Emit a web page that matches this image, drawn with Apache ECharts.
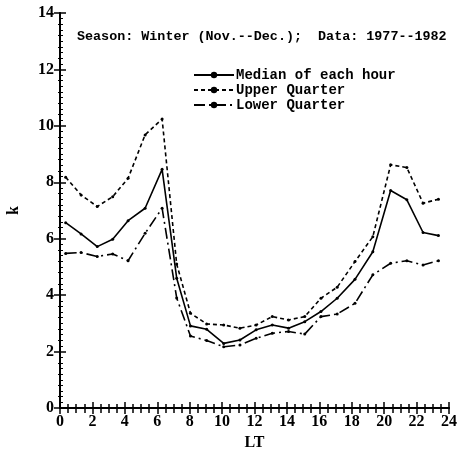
<!DOCTYPE html>
<html>
<head>
<meta charset="utf-8">
<script src="https://cdn.jsdelivr.net/npm/echarts@6/dist/echarts.min.js"></script>
<style>
  html, body { margin: 0; padding: 0; background: #fff; }
  #chart { width: 459px; height: 450px; }
</style>
</head>
<body>
<div id="chart"></div>
<script>
// local time of each hourly point (as plotted)
const lt = [0.35, 1.3, 2.3, 3.25, 4.2, 5.25, 6.3, 7.2, 8.05, 9.05, 10.1, 11.1,
            12.1, 13.1, 14.1, 15.1, 16.1, 17.1, 18.2, 19.3, 20.4, 21.4, 22.4, 23.35];
const median = [6.57, 6.17, 5.72, 5.98, 6.64, 7.08, 8.46, 4.6, 2.91, 2.79, 2.29, 2.41,
                2.77, 2.94, 2.83, 3.06, 3.42, 3.89, 4.56, 5.54, 7.71, 7.38, 6.22, 6.11];
const upper = [8.18, 7.55, 7.14, 7.49, 8.14, 9.68, 10.24, 5.1, 3.36, 2.98, 2.94, 2.83,
               2.94, 3.24, 3.12, 3.24, 3.89, 4.28, 5.19, 6.07, 8.62, 8.52, 7.26, 7.4];
const lower = [5.48, 5.51, 5.37, 5.46, 5.22, 6.19, 7.08, 3.9, 2.55, 2.39, 2.17, 2.23,
               2.47, 2.65, 2.71, 2.62, 3.24, 3.33, 3.71, 4.72, 5.13, 5.22, 5.07, 5.22];
const seriesNames = ['Median of each hour', 'Upper Quarter', 'Lower Quarter'];

const pairs = ys => lt.map((x, i) => [x, ys[i]]);
const labelFont = { fontFamily: 'Liberation Serif', fontWeight: 'bold', fontSize: 16, color: '#000' };

const myChart = echarts.init(document.getElementById('chart'));

const mkSeries = (name, ys, type) => ({
  name: name,
  type: 'line',
  data: pairs(ys),
  symbol: 'circle',
  symbolSize: 3,
  itemStyle: { color: '#000' },
  lineStyle: { color: '#000', width: 1.6, type: type },
  animation: false
});

myChart.setOption({
  animation: false,
  backgroundColor: '#fff',
  title: {
    text: 'Season: Winter (Nov.--Dec.);  Data: 1977--1982',
    left: 72, top: 25,
    textStyle: { fontFamily: 'Liberation Mono', fontWeight: 'bold', fontSize: 13.4, color: '#000' }
  },
  legend: {
    orient: 'vertical',
    left: 188, top: 63,
    itemGap: 1,
    itemWidth: 40, itemHeight: 8,
    data: seriesNames,
    textStyle: { fontFamily: 'Liberation Mono', fontWeight: 'bold', fontSize: 14, color: '#000', padding: [0, 0, 0, -3] }
  },
  grid: { left: 60, right: 10, top: 13, bottom: 42, outerBoundsMode: 'none' },
  xAxis: [{
    type: 'value', min: 0, max: 24, interval: 2,
    name: 'LT', nameLocation: 'middle', nameGap: 23,
    nameTextStyle: labelFont,
    axisLine: { lineStyle: { color: '#000', width: 2 } },
    axisTick: { inside: true, length: 6, lineStyle: { color: '#000', width: 1.5 } },
    minorTick: { show: true, splitNumber: 4, length: 4, lineStyle: { color: '#000', width: 1.5 } },
    axisLabel: Object.assign({ margin: 6 }, labelFont),
    splitLine: { show: false }
  }, {
    type: 'value', min: 0, max: 24, interval: 2, position: 'top',
    axisLine: { lineStyle: { color: '#000', width: 1.5 } },
    axisTick: { inside: true, length: 6, lineStyle: { color: '#000', width: 1.5 } },
    minorTick: { show: true, splitNumber: 4, length: 5, lineStyle: { color: '#000', width: 1.5 } },
    axisLabel: { show: false },
    splitLine: { show: false }
  }],
  yAxis: [{
    type: 'value', min: 0, max: 14, interval: 2,
    name: 'k', nameLocation: 'middle', nameGap: 38, nameRotate: 90,
    nameTextStyle: labelFont,
    axisLine: { lineStyle: { color: '#000', width: 2 } },
    axisTick: { inside: true, length: 6, lineStyle: { color: '#000', width: 1.5 } },
    minorTick: { show: true, splitNumber: 10, length: 3, lineStyle: { color: '#000', width: 1 } },
    axisLabel: Object.assign({ margin: 6 }, labelFont),
    splitLine: { show: false }
  }, {
    type: 'value', min: 0, max: 14, interval: 2, position: 'right',
    axisLine: { show: true, lineStyle: { color: '#000', width: 1.5 } },
    axisTick: { inside: true, length: 6, lineStyle: { color: '#000', width: 1.5 } },
    minorTick: { show: true, splitNumber: 5, length: 2, lineStyle: { color: '#000', width: 1 } },
    axisLabel: { show: false },
    splitLine: { show: false }
  }],
  series: [
    mkSeries(seriesNames[0], median, 'solid'),
    mkSeries(seriesNames[1], upper, [4, 3]),
    mkSeries(seriesNames[2], lower, [11, 4, 2, 4])
  ]
});
</script>
</body>
</html>
